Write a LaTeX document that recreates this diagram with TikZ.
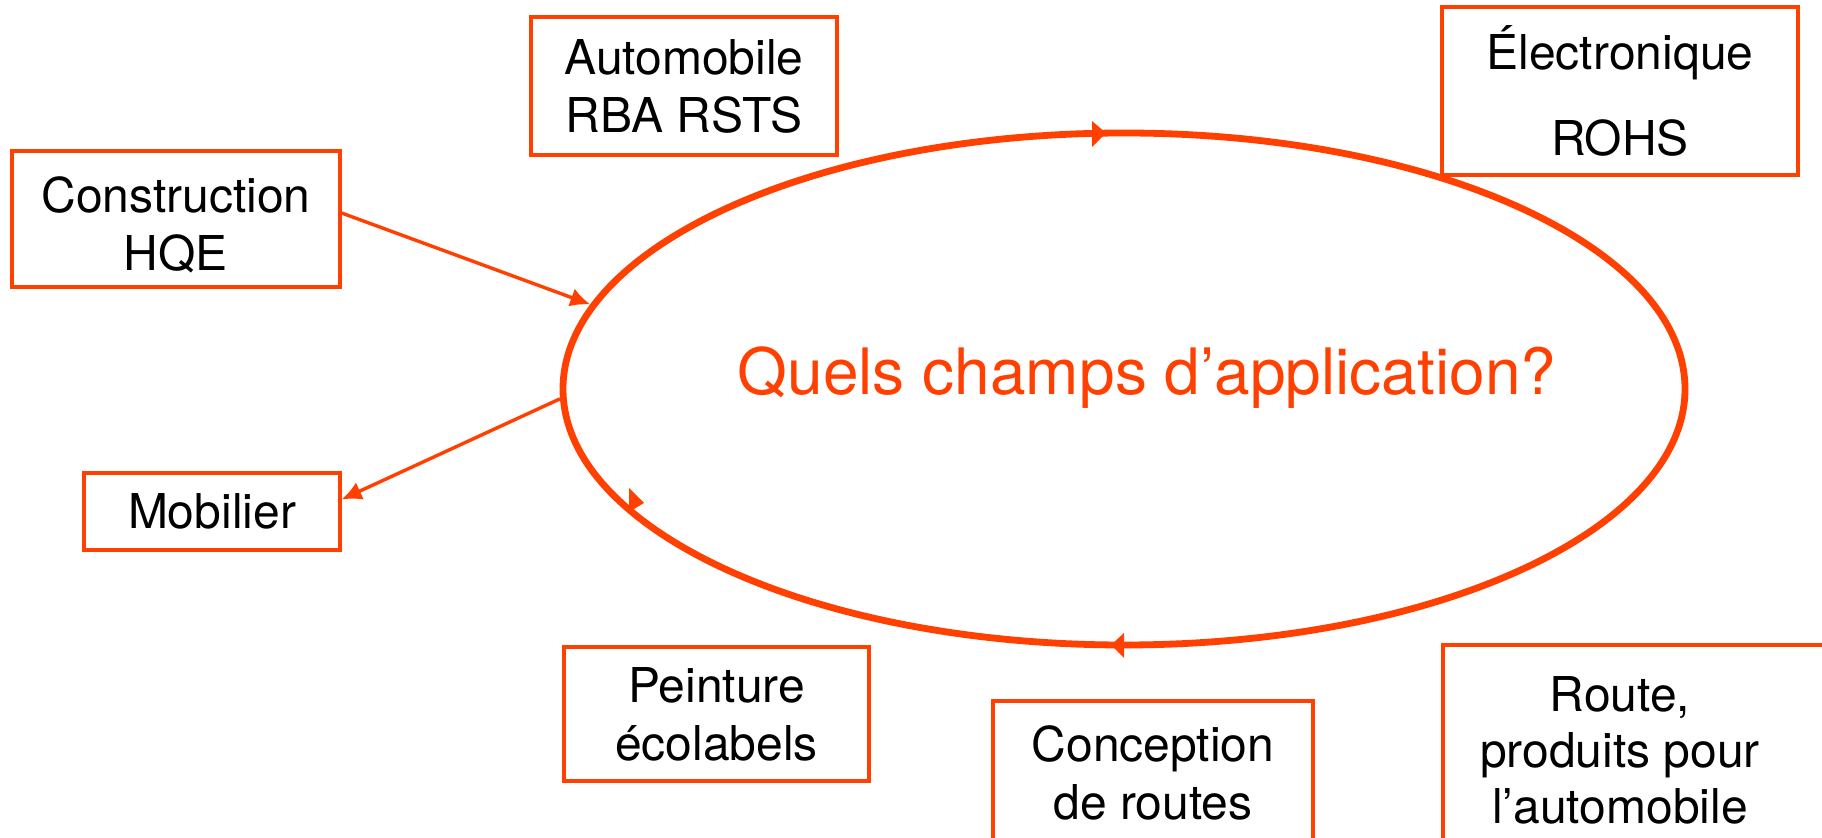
\documentclass[tikz,border=0pt]{standalone}
\usepackage{fontspec}
\setmainfont{TeX Gyre Heros}
\usetikzlibrary{arrows.meta,shapes.geometric}
\definecolor{orng}{RGB}{255,64,0}
\begin{document}
\begin{tikzpicture}[x=0.5pt,y=-0.5pt,
  box/.style={draw=orng,line width=1.6pt,inner sep=0pt,align=center,font=\fontsize{24}{29}\selectfont},
  lbl/.style={inner sep=0pt,align=center,font=\fontsize{24}{29}\selectfont},
  conn/.style={draw=orng,line width=1.7pt,-{Latex[length=10pt,width=9.5pt]}},
  tri/.style={fill=orng,draw=none}]
\useasboundingbox (0,0) rectangle (1822,838);
\clip (0,0) rectangle (1822,838);
\node[draw=orng,line width=3.4pt,ellipse,minimum width=561pt,minimum height=256pt,inner sep=0pt] (ell) at (1124,389) {};
\node[inner sep=0pt,text=orng,font=\fontsize{32}{38}\selectfont] (q) at (1147,378) {Quels champs d’application?};
\node[box,minimum width=153pt,minimum height=69pt] (auto) at (684,86) {Automobile\\RBA RSTS};
\node[box,minimum width=178pt,minimum height=84pt] (elec) at (1620,91) {Électronique\\[14pt]ROHS};
\node[box,minimum width=164pt,minimum height=68pt] (constr) at (176,219) {};
\node[lbl] (constrtxt) at (176,225) {Construction\\HQE};
\node[box,minimum width=128pt,minimum height=38.5pt] (mob) at (212,511.5) {Mobilier};
\node[box,minimum width=152.5pt,minimum height=67pt] (peint) at (716.5,714) {Peinture\\écolabels};
\node[box,minimum width=160pt,minimum height=72pt] (conc) at (1153,773) {Conception\\de routes};
\node[draw=orng,line width=1.6pt,inner sep=0pt,minimum width=198.5pt,minimum height=105pt] (routebox) at (1641.5,750) {};
\node[lbl,font=\fontsize{24}{28}\selectfont] (route) at (1620,750) {Route,\\produits pour\\l’automobile};
\draw[conn] ([yshift=3pt]constr.east) -- (ell.171);
\draw[conn] (ell.181) -- ([yshift=6pt]mob.east);
\fill[tri] (1092,121) -- (1092,147) -- (1106,133) -- cycle;
\fill[tri] (1124,633) -- (1124,658) -- (1111,645) -- cycle;
\fill[tri] (629,488) -- (629,512) -- (644,503) -- cycle;
\end{tikzpicture}
\end{document}
